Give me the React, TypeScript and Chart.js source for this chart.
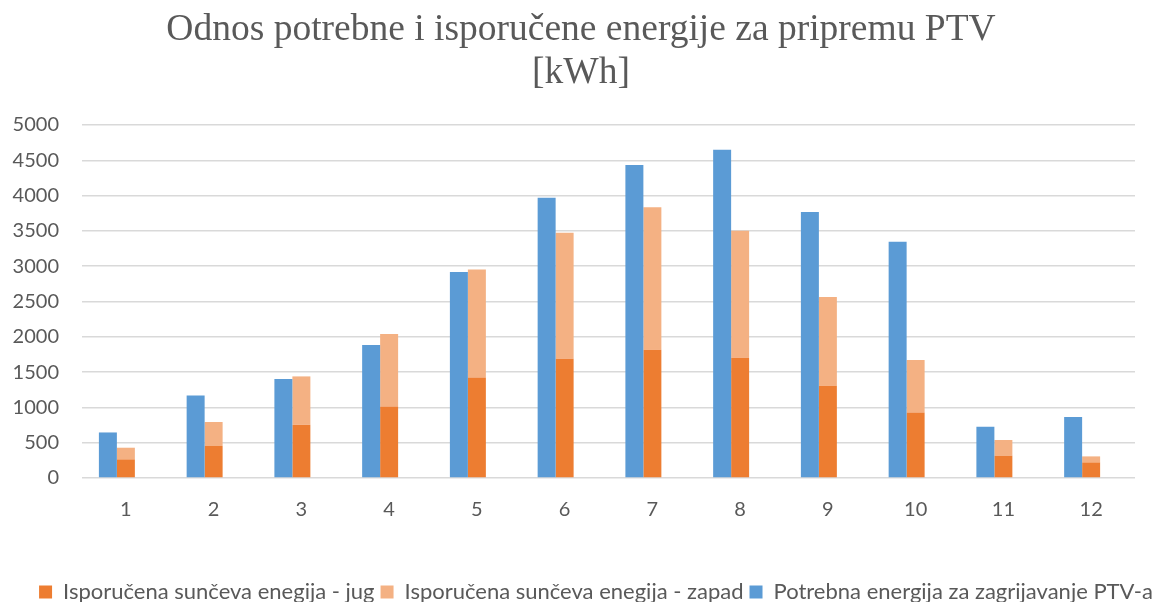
import React, { useEffect, useRef } from "react";
import { Chart, registerables } from "chart.js";

Chart.register(...registerables);

const months = ["1", "2", "3", "4", "5", "6", "7", "8", "9", "10", "11", "12"];
const jug = [264, 453, 755, 1014, 1425, 1690, 1817, 1704, 1307, 929, 316, 221];
const zapad = [165, 340, 684, 1025, 1529, 1784, 2020, 1798, 1256, 742, 222, 85];
const potrebna = [645, 1170, 1402, 1883, 2917, 3969, 4432, 4649, 3767, 3346, 726, 864];
const spacer = [0, 0, 0, 0, 0, 0, 0, 0, 0, 0, 0, 0];
const titleLines = ["Odnos potrebne i isporučene energije za pripremu PTV", "[kWh]"];
const seriesLabels = [
  "Isporučena sunčeva enegija - jug",
  "Isporučena sunčeva enegija - zapad",
  "Potrebna energija za zagrijavanje PTV-a",
];

const W = 1162;
const H = 613;

const legendShift = {
  id: "legendShift",
  afterLayout(chart: any) {
    if (chart.legend) {
      chart.legend.left += 30;
    }
  },
};

export default function App() {
  const ref = useRef<HTMLCanvasElement | null>(null);

  useEffect(() => {
    if (!ref.current) return;
    const chart = new Chart(ref.current, {
      type: "bar",
      data: {
        labels: months,
        datasets: [
          { label: seriesLabels[0], data: jug, backgroundColor: "#ED7D31", stack: "b", order: 1 },
          { label: seriesLabels[1], data: zapad, backgroundColor: "#F4B183", stack: "b", order: 1 },
          { label: seriesLabels[2], data: potrebna, backgroundColor: "#5B9BD5", stack: "a", order: 0 },
          { label: "", data: spacer, backgroundColor: "rgba(0,0,0,0)", stack: "c", order: 2 },
        ],
      },
      plugins: [legendShift],
      options: {
        responsive: false,
        animation: false,
        devicePixelRatio: 1,
        datasets: { bar: { categoryPercentage: 0.615, barPercentage: 1, borderWidth: 0 } },
        layout: { padding: { left: 0, right: 0, top: 0, bottom: 0 } },
        plugins: {
          title: {
            display: true,
            text: titleLines,
            color: "#595959",
            font: { family: "'Liberation Serif', 'Times New Roman', serif", size: 37.5, weight: "normal", lineHeight: 1.147 },
            padding: { top: 8.5, bottom: 30.5 },
          },
          legend: {
            display: true,
            position: "bottom",
            labels: {
              color: "#595959",
              font: { family: "Lato, sans-serif", size: 22 },
              boxWidth: 13,
              boxHeight: 13,
              padding: 6,
              filter: (item: any) => item.text !== "",
              sort: (a: any, b: any) => a.datasetIndex - b.datasetIndex,
            },
          },
          tooltip: { enabled: false },
        },
        scales: {
          x: {
            stacked: true,
            grid: { display: false, drawTicks: false },
            border: { display: false },
            ticks: { color: "#595959", font: { family: "Lato, sans-serif", size: 20 }, padding: 20 },
            afterFit: (scale: any) => {
              scale.height = 97;
            },
          },
          y: {
            stacked: true,
            min: 0,
            max: 5000,
            ticks: {
              stepSize: 500,
              color: "#595959",
              font: { family: "Lato, sans-serif", size: 20 },
              padding: 23,
              callback: (v: any) => String(v),
            },
            grid: { color: "#D9D9D9", lineWidth: 1.5, drawTicks: false },
            border: { display: false },
            afterFit: (scale: any) => {
              scale.width = 82;
            },
          },
          yR: {
            type: "linear",
            position: "right",
            display: true,
            grid: { display: false, drawTicks: false },
            ticks: { display: false },
            border: { display: false },
            afterFit: (scale: any) => {
              scale.width = 27;
            },
          },
        },
      },
    });
    return () => chart.destroy();
  }, []);

  return (
    <div style={{ position: "fixed", left: 0, top: 0, width: W, height: 602, overflow: "hidden", background: "#fff" }}>
      <canvas ref={ref} width={W} height={H} style={{ display: "block" }} />
    </div>
  );
}
